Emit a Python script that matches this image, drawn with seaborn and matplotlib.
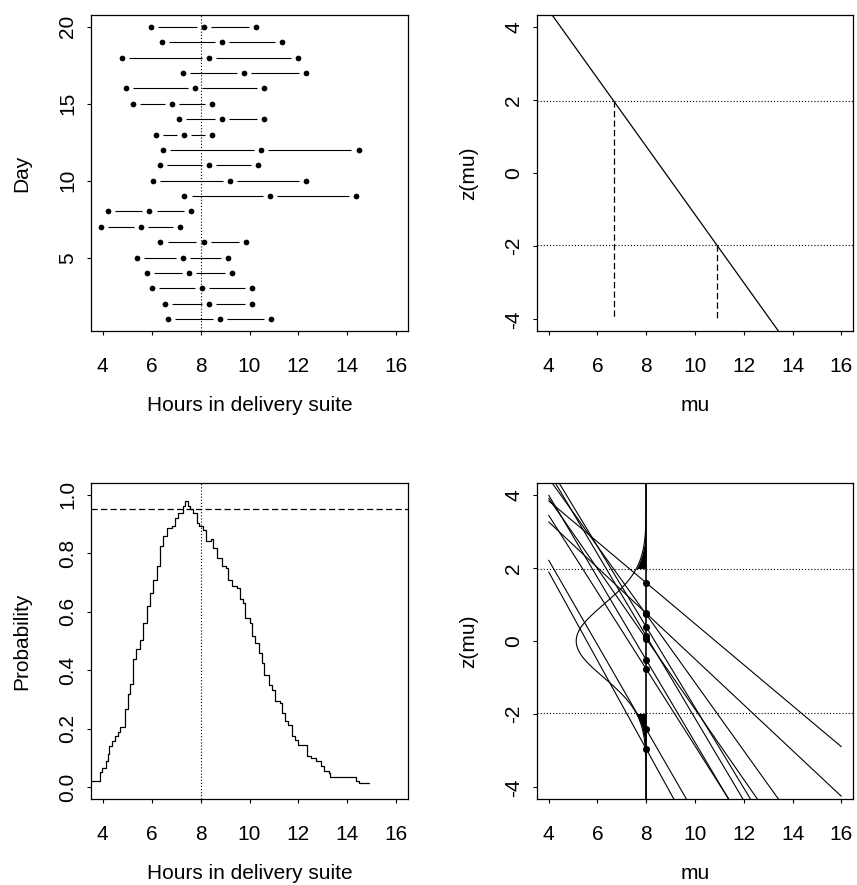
import numpy as np
import pandas as pd
import matplotlib
matplotlib.use("Agg")
import matplotlib.pyplot as plt
import seaborn as sns

# ---------------- data ----------------
days = list(range(1, 21))
lower = [6.68, 6.55, 6.03, 5.81, 5.40, 6.36, 3.93, 4.21, 7.34, 6.06,
         6.34, 6.47, 6.18, 7.13, 5.22, 4.94, 7.27, 4.77, 6.42, 5.97]
mid = [8.78, 8.35, 8.06, 7.54, 7.27, 8.12, 5.56, 5.91, 10.84, 9.21,
       8.35, 10.48, 7.32, 8.88, 6.83, 7.76, 9.79, 8.36, 8.88, 8.13]
upper = [10.89, 10.11, 10.11, 9.29, 9.13, 9.85, 7.17, 7.60, 14.34, 12.33,
         10.35, 14.46, 8.47, 10.60, 8.46, 10.60, 12.32, 11.98, 11.32, 10.26]

mu0 = 8.0          # reference value (dotted / solid vertical)
crit = 1.96        # +/- critical z
level = 0.95       # dashed line in coverage panel
example_day = 1    # day used in top-right panel
n_lines = 10       # days drawn in bottom-right panel
mu_range = [4, 16]

coverage_mu = [3.50, 3.88, 3.99, 4.15, 4.22, 4.26, 4.36, 4.49, 4.63, 4.72,
               4.92, 5.04, 5.11, 5.22, 5.38, 5.52, 5.65, 5.79, 5.93, 6.06,
               6.20, 6.34, 6.47, 6.61, 6.82, 6.95, 7.09, 7.27, 7.36, 7.50,
               7.57, 7.70, 7.84, 7.95, 8.11, 8.22, 8.41, 8.52, 8.66, 8.86,
               9.04, 9.14, 9.27, 9.48, 9.61, 9.75, 9.82, 10.00, 10.09, 10.23,
               10.37, 10.50, 10.60, 10.78, 10.91, 11.05, 11.23, 11.32, 11.46, 11.59,
               11.73, 11.87, 12.00, 12.34, 12.51, 12.73, 12.92, 13.03, 13.23, 13.30,
               14.36, 14.46, 14.87]
coverage_prob = [0.023, 0.051, 0.066, 0.089, 0.115, 0.140, 0.157, 0.174, 0.190, 0.205,
                 0.268, 0.319, 0.353, 0.437, 0.471, 0.505, 0.562, 0.619, 0.665, 0.710,
                 0.756, 0.824, 0.858, 0.887, 0.892, 0.921, 0.938, 0.961, 0.980, 0.961,
                 0.950, 0.938, 0.904, 0.892, 0.881, 0.841, 0.847, 0.818, 0.784, 0.756,
                 0.750, 0.710, 0.687, 0.681, 0.642, 0.630, 0.579, 0.562, 0.516, 0.494,
                 0.459, 0.425, 0.385, 0.351, 0.334, 0.294, 0.288, 0.254, 0.226, 0.214,
                 0.174, 0.163, 0.143, 0.108, 0.100, 0.089, 0.074, 0.055, 0.049, 0.034,
                 0.021, 0.013, 0.013]

# ---------------- style ----------------
sns.set_theme(style="ticks")
plt.rcParams["font.family"] = ["Liberation Sans", "DejaVu Sans"]
FS = 15
plt.rcParams.update({
    "axes.linewidth": 0.9,
    "xtick.direction": "out", "ytick.direction": "out",
    "xtick.major.size": 3.0, "ytick.major.size": 3.0,
    "xtick.major.width": 0.8, "ytick.major.width": 0.8,
    "xtick.labelsize": FS, "ytick.labelsize": FS,
    "axes.labelsize": FS,
    "xtick.color": "black", "ytick.color": "black",
    "axes.edgecolor": "black", "text.color": "black", "axes.labelcolor": "black",
})

W, H = 857, 885
fig = plt.figure(figsize=(W / 100, H / 100), dpi=100)

def box(l, t, r, b):
    return [l / W, 1 - b / H, (r - l) / W, (b - t) / H]

ax1 = fig.add_axes(box(91, 15, 408, 331))
ax2 = fig.add_axes(box(537, 15, 853, 331))
ax3 = fig.add_axes(box(91, 483, 408, 799))
ax4 = fig.add_axes(box(537, 483, 853, 799))

DOT = (0, (1.0, 1.8))
DASH = (0, (5.0, 2.6))
xlim = (3.52, 16.48)
zlim = (-4.32, 4.32)

def style(ax, yticks, ylabels, xlabel, ylabel):
    ax.set_xlim(*xlim)
    ax.set_xticks([4, 6, 8, 10, 12, 14, 16])
    ax.set_yticks(yticks)
    ax.set_yticklabels(ylabels, rotation=90, va="center")
    ax.set_xlabel(xlabel, labelpad=14)
    ax.set_ylabel(ylabel, labelpad=19)
    ax.tick_params(axis="x", pad=16)
    ax.tick_params(axis="y", pad=7)
    for s in ax.spines.values():
        s.set_visible(True)
        s.set_color("black")
    ax.grid(False)

# ---------- top-left: intervals per day ----------
df = pd.DataFrame({"day": days * 3, "hours": lower + mid + upper})
gap = 0.29
lo_a, mi_a, hi_a = np.array(lower), np.array(mid), np.array(upper)
ax1.hlines(days, lo_a + gap, mi_a - gap, color="black", lw=0.8)
ax1.hlines(days, mi_a + gap, hi_a - gap, color="black", lw=0.8)
sns.scatterplot(data=df, x="hours", y="day", ax=ax1, color="black", s=17,
                linewidth=0, zorder=3)
ax1.axvline(mu0, color="black", lw=0.8, ls=DOT)
ax1.set_ylim(0.24, 20.76)
style(ax1, [5, 10, 15, 20], ["5", "10", "15", "20"], "Hours in delivery suite", "Day")

# ---------- top-right: z(mu) for one day ----------
i = example_day - 1
se1 = (upper[i] - lower[i]) / (2 * crit)
line1 = pd.DataFrame({"mu": mu_range, "z": [(mid[i] - m) / se1 for m in mu_range]})
sns.lineplot(data=line1, x="mu", y="z", ax=ax2, color="black", lw=0.9)
for zc in (crit, -crit):
    ax2.axhline(zc, color="black", lw=0.8, ls=DOT)
ax2.plot([lower[i], lower[i]], [crit, -4], color="black", lw=0.9, ls=DASH)
ax2.plot([upper[i], upper[i]], [-crit, -4], color="black", lw=0.9, ls=DASH)
ax2.set_ylim(*zlim)
style(ax2, [-4, -2, 0, 2, 4], ["-4", "-2", "0", "2", "4"], "mu", "z(mu)")

# ---------- bottom-left: coverage probability ----------
cov = pd.DataFrame({"mu": coverage_mu, "p": coverage_prob})
sns.lineplot(data=cov, x="mu", y="p", ax=ax3, color="black", lw=0.9,
             drawstyle="steps-post", estimator=None, sort=False)
ax3.axvline(mu0, color="black", lw=0.8, ls=DOT)
ax3.axhline(level, color="black", lw=0.9, ls=DASH)
ax3.set_ylim(-0.04, 1.04)
style(ax3, [0, 0.2, 0.4, 0.6, 0.8, 1.0], ["0.0", "0.2", "0.4", "0.6", "0.8", "1.0"],
      "Hours in delivery suite", "Probability")

# ---------- bottom-right: z lines for several days ----------
rows = []
for d in range(n_lines):
    se = (upper[d] - lower[d]) / (2 * crit)
    for m in mu_range:
        rows.append({"day": d + 1, "mu": m, "z": (mid[d] - m) / se})
lines = pd.DataFrame(rows)
sns.lineplot(data=lines, x="mu", y="z", units="day", estimator=None, ax=ax4,
             color="black", lw=0.8)
zz = np.linspace(zlim[0], zlim[1], 400)
dens = np.exp(-zz ** 2 / 2) / np.sqrt(2 * np.pi)
scale = 7.2
ax4.plot(mu0 - scale * dens, zz, color="black", lw=0.8)
for mask in (zz >= crit, zz <= -crit):
    ax4.fill_betweenx(zz[mask], mu0 - scale * dens[mask], mu0, color="black", lw=0)
ax4.axvline(mu0, color="black", lw=1.2)
for zc in (crit, -crit):
    ax4.axhline(zc, color="black", lw=0.8, ls=DOT)
z8 = [(mid[d] - mu0) / ((upper[d] - lower[d]) / (2 * crit)) for d in range(n_lines)]
sns.scatterplot(x=[mu0] * n_lines, y=z8, ax=ax4, color="black", s=26, linewidth=0, zorder=4)
ax4.set_ylim(*zlim)
style(ax4, [-4, -2, 0, 2, 4], ["-4", "-2", "0", "2", "4"], "mu", "z(mu)")

fig.savefig("out.png", dpi=100)
